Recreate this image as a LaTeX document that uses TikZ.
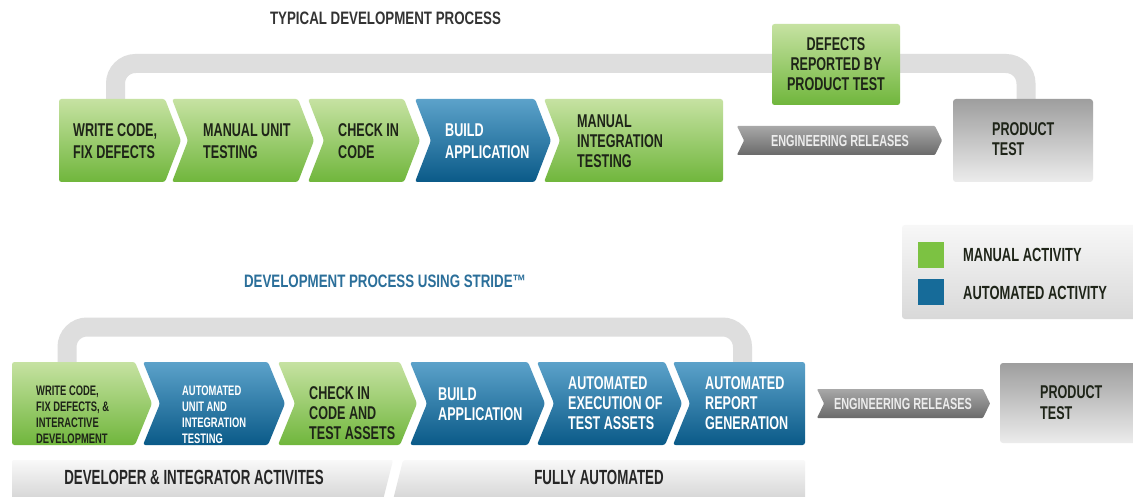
\documentclass[tikz,border=0pt]{standalone}
\usepackage{fontspec}
\setmainfont{Liberation Sans}[FakeStretch=0.68]
\newfontfamily\titlef{Liberation Sans}[FakeStretch=0.74]
\newfontfamily\barf{Liberation Sans}[FakeStretch=0.65]
\definecolor{gTop}{HTML}{C6E2A2}
\definecolor{gBot}{HTML}{70B63C}
\definecolor{bTop}{HTML}{5CA2CA}
\definecolor{bBot}{HTML}{0A5A88}
\definecolor{pTop}{HTML}{9E9E9E}
\definecolor{pBot}{HTML}{ECECEC}
\definecolor{eTop}{HTML}{A8A8A8}
\definecolor{eBot}{HTML}{6A6A6A}
\definecolor{loopc}{HTML}{DEDEDE}
\definecolor{txtd}{HTML}{1E2418}
\definecolor{titleb}{HTML}{2B6F9A}
\definecolor{legG}{HTML}{7CC242}
\definecolor{legB}{HTML}{166B99}
\tikzset{
  gfill/.style={top color=gTop, bottom color=gBot, rounded corners=2.5pt},
  bfill/.style={top color=bTop, bottom color=bBot, rounded corners=2.5pt},
  pfill/.style={top color=pTop, bottom color=pBot, rounded corners=3pt},
  efill/.style={top color=eTop, bottom color=eBot, rounded corners=1pt},
  barfill/.style={top color=gray!5, bottom color=gray!33, rounded corners=2pt},
  legfill/.style={top color=gray!6, bottom color=gray!30, rounded corners=3pt},
  loopline/.style={draw=loopc, line width=19pt, rounded corners=20pt},
  bt/.style={anchor=west, align=left, inner sep=0pt, text=txtd,
    font=\bfseries\fontsize{18.5}{22}\selectfont},
  bt3/.style={bt, font=\bfseries\fontsize{18.5}{20}\selectfont},
  st/.style={bt, font=\bfseries\fontsize{13.8}{16}\selectfont},
  wt/.style={text=white},
  engt/.style={inner sep=0pt, text=gray!15, font=\bfseries\fontsize{16}{18}\selectfont},
  titlet/.style={inner sep=0pt, font=\titlef\bfseries\fontsize{18}{22}\selectfont},
  bart/.style={inner sep=0pt, text=black!85, font=\barf\bfseries\fontsize{20.5}{22}\selectfont},
  legt/.style={anchor=west, inner sep=0pt, text=txtd, font=\bfseries\fontsize{19}{22}\selectfont}
}
\begin{document}
\begin{tikzpicture}[x=1pt,y=-1pt]
\useasboundingbox (0,0) rectangle (1133,497);
\fill[white] (0,0) rectangle (1133,497);

% ---------- TOP ----------
\node[titlet, text=black!80] (title1) at (385.5,18.5) {TYPICAL DEVELOPMENT PROCESS};

\coordinate (l1a) at (115.5,100);
\coordinate (l1b) at (1026,100);
\draw[loopline] (l1a) -- (115.5,63.5) -- (1026,63.5) -- (l1b);

\shade[gfill] (59,99) -- (165,99) -- (181,140.5) -- (165,182) -- (59,182) -- cycle;
\shade[gfill] (172,99) -- (298,99) -- (314,140.5) -- (298,182) -- (172,182) -- (188,140.5) -- cycle;
\shade[gfill] (308,99) -- (404,99) -- (420,140.5) -- (404,182) -- (308,182) -- (324,140.5) -- cycle;
\shade[bfill] (415,99) -- (535,99) -- (551,140.5) -- (535,182) -- (415,182) -- (431,140.5) -- cycle;
\shade[gfill] (544,99) -- (723,99) -- (723,182) -- (544,182) -- (560,140.5) -- cycle;

\node[bt] (t1) at (73,141) {WRITE CODE,\\FIX DEFECTS};
\node[bt] (t2) at (203,141) {MANUAL UNIT\\TESTING};
\node[bt] (t3) at (338,141) {CHECK IN\\CODE};
\node[bt, wt] (t4) at (445,141.5) {BUILD\\APPLICATION};
\node[bt3] (t5) at (577,141) {MANUAL\\INTEGRATION\\TESTING};

\shade[gfill] (772,24) rectangle (900,105);
\node[bt3, anchor=center, align=center] (def) at (836,64) {DEFECTS\\REPORTED BY\\PRODUCT TEST};

\shade[efill] (737,126) -- (935,126) -- (942,140.5) -- (935,155) -- (737,155) -- (744,140.5) -- cycle;
\node[engt] (er1) at (840,140.5) {ENGINEERING RELEASES};

\shade[pfill] (953,99) rectangle (1093,182);
\node[bt, font=\bfseries\fontsize{18.5}{20}\selectfont] (pt1) at (992,139.5) {PRODUCT\\TEST};

% ---------- LEGEND ----------
\shade[legfill] (902,225) rectangle (1140,319);
\fill[legG] (918,242) rectangle (944,268);
\fill[legB] (918,279) rectangle (944,305);
\node[legt] (lg1) at (963,255) {MANUAL ACTIVITY};
\node[legt] (lg2) at (963,293) {AUTOMATED ACTIVITY};

% ---------- BOTTOM ----------
\node[titlet, text=titleb] (title2) at (385,281) {DEVELOPMENT PROCESS USING STRIDE™};

\coordinate (l2a) at (67,363);
\coordinate (l2b) at (742.5,363);
\draw[loopline] (l2a) -- (67,327) -- (742.5,327) -- (l2b);

\shade[gfill] (12,362) -- (135,362) -- (152,403.5) -- (135,445) -- (12,445) -- cycle;
\shade[bfill] (143,362) -- (268,362) -- (285,403.5) -- (268,445) -- (143,445) -- (160,403.5) -- cycle;
\shade[gfill] (278,362) -- (400,362) -- (417,403.5) -- (400,445) -- (278,445) -- (295,403.5) -- cycle;
\shade[bfill] (410,362) -- (528,362) -- (545,403.5) -- (528,445) -- (410,445) -- (427,403.5) -- cycle;
\shade[bfill] (537,362) -- (665,362) -- (682,403.5) -- (665,445) -- (537,445) -- (554,403.5) -- cycle;
\shade[bfill] (673,362) -- (805,362) -- (805,445) -- (673,445) -- (690,403.5) -- cycle;

\node[st] (s1) at (36,414.5) {WRITE CODE,\\FIX DEFECTS, \&\\INTERACTIVE\\DEVELOPMENT};
\node[st, wt] (s2) at (182,414.5) {AUTOMATED\\UNIT AND\\INTEGRATION\\TESTING};
\node[bt3] (s3) at (309,413) {CHECK IN\\CODE AND\\TEST ASSETS};
\node[bt3, wt] (s4) at (438,404) {BUILD\\APPLICATION};
\node[bt3, wt] (s5) at (568,403) {AUTOMATED\\EXECUTION OF\\TEST ASSETS};
\node[bt3, wt] (s6) at (705,403) {AUTOMATED\\REPORT\\GENERATION};

\shade[efill] (817,389) -- (983,389) -- (990,403.5) -- (983,418) -- (817,418) -- (824,403.5) -- cycle;
\node[engt] (er2) at (903,403.5) {ENGINEERING RELEASES};

\shade[pfill] (1000,363) rectangle (1140,443);
\node[bt, font=\bfseries\fontsize{18.5}{21}\selectfont] (pt2) at (1040,402.5) {PRODUCT\\TEST};

\shade[barfill] (12,460) -- (393,460) -- (383,500) -- (12,500) -- cycle;
\shade[barfill] (403,460) -- (805,460) -- (805,500) -- (393,500) -- cycle;
\node[bart] (bar1) at (194,477.5) {DEVELOPER \& INTEGRATOR ACTIVITES};
\node[bart] (bar2) at (599,477.5) {FULLY AUTOMATED};
\end{tikzpicture}
\end{document}
